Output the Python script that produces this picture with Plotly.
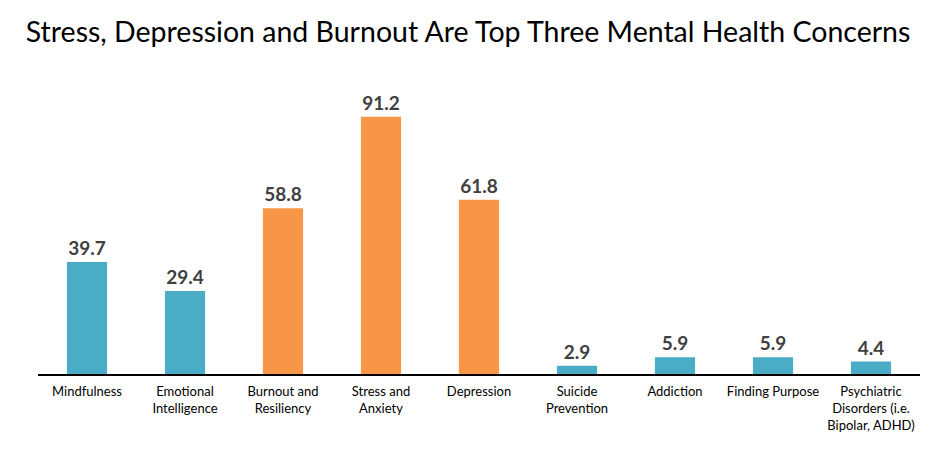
"""Mental health concerns bar chart."""
import plotly.graph_objects as go

categories = [
    "Mindfulness",
    "Emotional<br>Intelligence",
    "Burnout and<br>Resiliency",
    "Stress and<br>Anxiety",
    "Depression",
    "Suicide<br>Prevention",
    "Addiction",
    "Finding Purpose",
    "Psychiatric<br>Disorders (i.e.<br>Bipolar, ADHD)",
]
values = [39.7, 29.4, 58.8, 91.2, 61.8, 2.9, 5.9, 5.9, 4.4]
highlight = [False, False, True, True, True, False, False, False, False]

BLUE = "#4BACC6"
ORANGE = "#F79646"

fig = go.Figure(
    go.Bar(
        x=categories,
        y=values,
        marker=dict(color=[ORANGE if h else BLUE for h in highlight], line=dict(width=0)),
        text=[f"{v:.1f}" for v in values],
        textposition="outside",
        textfont=dict(size=19, color="#404040", family="Lato", weight="bold"),
        cliponaxis=False,
    )
)

# the page adds an 8px body margin, so the figure is offset to compensate
fig.update_layout(
    width=936,
    height=449,
    title=dict(
        text="Stress, Depression and Burnout Are Top Three Mental Health Concerns",
        x=0.4915,
        xanchor="center",
        y=0.947,
        yanchor="middle",
        font=dict(size=28.5, color="black", family="Lato"),
    ),
    font=dict(family="Lato", color="black"),
    plot_bgcolor="white",
    paper_bgcolor="white",
    margin=dict(l=30, r=24, t=84, b=83),
    bargap=0.59,
    showlegend=False,
)
fig.update_xaxes(
    showline=True,
    linecolor="black",
    linewidth=1.5,
    tickfont=dict(size=13, color="black"),
    ticks="",
    ticklabelstandoff=5,
)
fig.update_yaxes(range=[0, 100], visible=False, showgrid=False)

fig.write_html("out.html")
